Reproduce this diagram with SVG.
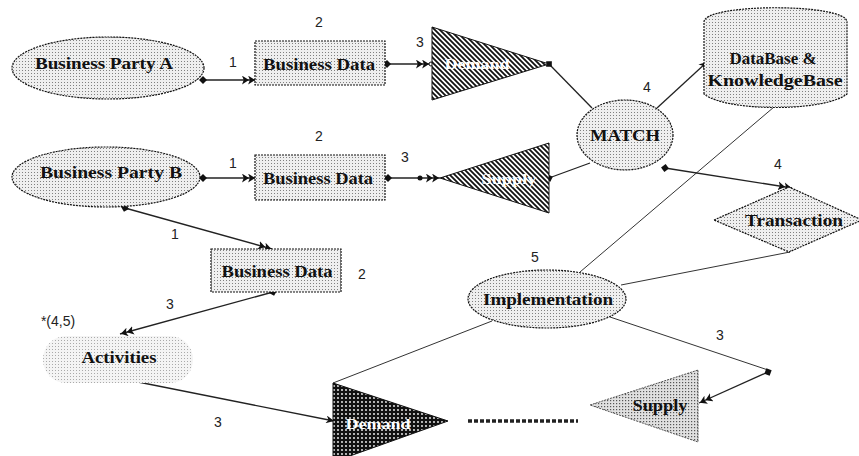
<svg xmlns="http://www.w3.org/2000/svg" width="859" height="456" viewBox="0 0 859 456">
<defs>
<pattern id="dots" width="3" height="3" patternUnits="userSpaceOnUse"><rect width="3" height="3" fill="#efefef"/><rect x="1" y="1" width="1" height="1" fill="#808080"/></pattern>
<pattern id="dotsL" width="3" height="3" patternUnits="userSpaceOnUse"><rect width="3" height="3" fill="#f4f4f4"/><rect x="1" y="1" width="1" height="1" fill="#aaa"/></pattern>
<pattern id="dotsM" width="3" height="3" patternUnits="userSpaceOnUse"><rect width="3" height="3" fill="#e0e0e0"/><rect x="1" y="1" width="1.2" height="1.2" fill="#555"/></pattern>
<pattern id="dark" width="4" height="4" patternUnits="userSpaceOnUse"><rect width="4" height="4" fill="#111"/><circle cx="2" cy="2" r="0.9" fill="#fff"/></pattern>
<pattern id="hatch" width="5" height="5" patternUnits="userSpaceOnUse"><rect width="5" height="5" fill="#fff"/><path d="M-1,-1 L6,6 M-1,4 L1,6 M4,-1 L6,1" stroke="#111" stroke-width="1.8"/></pattern>
<marker id="dot" viewBox="0 0 8 8" refX="4" refY="4" markerWidth="8" markerHeight="8" markerUnits="userSpaceOnUse" orient="auto"><path d="M0,4 L4,0 L8,4 L4,8 Z" fill="#111"/></marker>
<marker id="arr" viewBox="0 0 10 10" refX="10" refY="5" markerWidth="10" markerHeight="8" markerUnits="userSpaceOnUse" orient="auto"><path d="M0,0 L10,5 L0,10 L3,5 Z" fill="#111"/></marker>
<marker id="arr2" viewBox="0 0 16 10" refX="16" refY="5" markerWidth="14" markerHeight="9" markerUnits="userSpaceOnUse" orient="auto"><path d="M0,0 L8,5 L0,10 L2,5 Z M7,0 L15,5 L7,10 L9,5 Z" fill="#111"/></marker>
</defs>
<style>
.lbl{font-family:"Liberation Serif","Times New Roman",serif;font-weight:bold;font-size:16px;fill:#111;text-anchor:middle}
.wl{font-family:"Liberation Serif","Times New Roman",serif;font-weight:bold;font-size:15px;fill:#fff;text-anchor:middle}
.num{font-family:"Liberation Sans",Arial,sans-serif;font-size:14px;fill:#222;text-anchor:middle}
.node{fill:url(#dots);stroke:#111;stroke-width:1.2;stroke-dasharray:2 1}
.ln{stroke:#222;stroke-width:1.3;fill:none}
.lt{stroke:#333;stroke-width:1;fill:none}
</style>
<rect width="859" height="456" fill="#fff"/>
<g id="connectors">
<line class="ln" x1="203" y1="80" x2="256" y2="80" marker-start="url(#dot)" marker-end="url(#arr2)"/>
<line class="ln" x1="387" y1="64" x2="430" y2="64" marker-start="url(#dot)" marker-end="url(#arr2)"/>
<circle cx="431" cy="64" r="2" fill="#fff" stroke="#111"/>
<line class="ln" x1="549" y1="64" x2="592" y2="108" marker-start="url(#dot)"/>
<line class="ln" x1="657" y1="108" x2="707" y2="62" marker-end="url(#arr)"/>
<line class="lt" x1="774" y1="107" x2="580" y2="272"/>
<line class="ln" x1="665" y1="168" x2="792" y2="188" marker-start="url(#dot)" marker-end="url(#arr2)"/>
<line class="lt" x1="790" y1="252" x2="621" y2="285"/>
<line class="ln" x1="203" y1="178" x2="256" y2="178" marker-start="url(#dot)" marker-end="url(#arr2)"/>
<line class="ln" x1="388" y1="178" x2="440" y2="178" marker-start="url(#dot)" marker-end="url(#arr2)"/>
<circle cx="420" cy="178" r="2.5" fill="#111"/>
<line class="ln" x1="549" y1="178" x2="590" y2="163" marker-start="url(#dot)"/>
<line class="ln" x1="125" y1="208" x2="272" y2="249" marker-start="url(#dot)" marker-end="url(#arr2)"/>
<line class="ln" x1="273" y1="292" x2="120" y2="334" marker-start="url(#dot)" marker-end="url(#arr2)"/>
<line class="ln" x1="118" y1="378" x2="334" y2="421" marker-start="url(#dot)" marker-end="url(#arr)"/>
<line class="lt" x1="492" y1="321" x2="333" y2="383"/>
<line x1="468" y1="421" x2="578" y2="421" stroke="#222" stroke-width="3.5" stroke-dasharray="4 2"/>
<line class="lt" x1="610" y1="317" x2="768" y2="370"/>
<line class="ln" x1="768" y1="372" x2="699" y2="403" marker-start="url(#dot)" marker-end="url(#arr2)"/>
</g>
<g id="partyA"><ellipse class="node" cx="108" cy="68" rx="96" ry="31"/><text class="lbl" x="104" y="69" textLength="138" lengthAdjust="spacingAndGlyphs">Business Party A</text></g>
<g id="data1"><rect class="node" x="255" y="41" width="130" height="44"/><text class="lbl" x="319" y="70" textLength="112" lengthAdjust="spacingAndGlyphs">Business Data</text></g>
<g id="demandTop"><polygon points="432,27 432,100 549,64" fill="url(#hatch)" stroke="#111"/><text class="wl" x="477" y="69" textLength="65" lengthAdjust="spacingAndGlyphs">Demand</text></g>
<g id="match"><ellipse class="node" cx="625" cy="135" rx="48" ry="35"/><text class="lbl" x="625" y="141" textLength="70" lengthAdjust="spacingAndGlyphs">MATCH</text></g>
<g id="db"><path class="node" d="M704,94 L704,22 C704,3 847,3 847,22 L847,94 C825,112 726,112 704,94 Z"/><text class="lbl" x="773" y="64" textLength="87" lengthAdjust="spacingAndGlyphs">DataBase &amp;</text><text class="lbl" x="775" y="86" textLength="135" lengthAdjust="spacingAndGlyphs">KnowledgeBase</text></g>
<g id="transaction"><polygon class="node" points="714,220 789,187 862,220 789,252"/><text class="lbl" x="794" y="226" textLength="98" lengthAdjust="spacingAndGlyphs">Transaction</text></g>
<g id="partyB"><ellipse class="node" cx="106" cy="177" rx="94" ry="30"/><text class="lbl" x="111" y="178" textLength="142" lengthAdjust="spacingAndGlyphs">Business Party B</text></g>
<g id="data2"><rect class="node" x="255" y="155" width="130" height="45"/><text class="lbl" x="318" y="184" textLength="110" lengthAdjust="spacingAndGlyphs">Business Data</text></g>
<g id="supplyTop"><polygon points="440,178 549,143 549,213" fill="url(#hatch)" stroke="#111"/><text class="wl" x="509" y="184" textLength="55" lengthAdjust="spacingAndGlyphs">Supply</text></g>
<g id="data3"><rect class="node" x="211" y="249" width="130" height="43"/><text class="lbl" x="277" y="277" textLength="111" lengthAdjust="spacingAndGlyphs">Business Data</text></g>
<g id="activities"><rect x="43" y="336" width="150" height="47" rx="23" fill="url(#dotsL)"/><text class="lbl" x="119" y="363" textLength="75" lengthAdjust="spacingAndGlyphs">Activities</text></g>
<g id="implementation"><ellipse class="node" cx="547" cy="299" rx="79" ry="29"/><text class="lbl" x="548" y="305" textLength="130" lengthAdjust="spacingAndGlyphs">Implementation</text></g>
<g id="demandBottom"><polygon points="333,383 333,462 448,421" fill="url(#dark)" stroke="#111"/><text class="wl" x="378" y="429" textLength="65" lengthAdjust="spacingAndGlyphs">Demand</text></g>
<g id="supplyBottom"><polygon points="590,405 698,370 698,442" fill="url(#dotsM)" stroke="#555" stroke-dasharray="2 1"/><text class="lbl" x="660" y="411" textLength="55" lengthAdjust="spacingAndGlyphs">Supply</text></g>
<g id="labels">
<text class="num" x="233" y="67">1</text>
<text class="num" x="319" y="27">2</text>
<text class="num" x="420" y="47">3</text>
<text class="num" x="233" y="168">1</text>
<text class="num" x="319" y="141">2</text>
<text class="num" x="405" y="162">3</text>
<text class="num" x="647" y="92">4</text>
<text class="num" x="778" y="169">4</text>
<text class="num" x="175" y="239">1</text>
<text class="num" x="362" y="279">2</text>
<text class="num" x="170" y="309">3</text>
<text class="num" x="58" y="326">*(4,5)</text>
<text class="num" x="218" y="427">3</text>
<text class="num" x="535" y="262">5</text>
<text class="num" x="720" y="340">3</text>
</g>
</svg>
